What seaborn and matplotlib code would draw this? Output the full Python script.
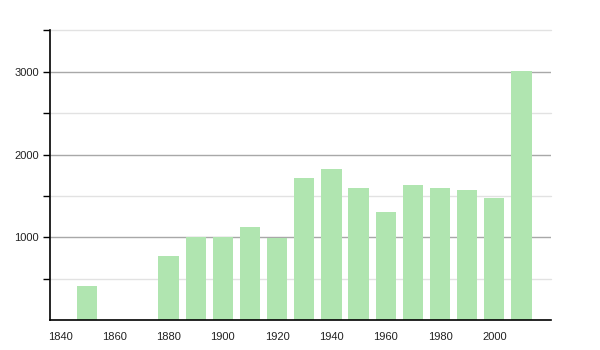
import matplotlib
matplotlib.use("Agg")
import matplotlib.pyplot as plt
import seaborn as sns
import pandas as pd
from matplotlib.ticker import FixedLocator

years = [1850, 1880, 1890, 1900, 1910, 1920, 1930, 1940, 1950, 1960, 1970, 1980, 1990, 2000, 2010]
population = [410, 770, 1000, 1000, 1130, 990, 1720, 1820, 1590, 1310, 1630, 1590, 1570, 1480, 3010]
x_ticks = [1840, 1860, 1880, 1900, 1920, 1940, 1960, 1980, 2000]
y_major = [1000, 2000, 3000]
y_minor = [500, 1500, 2500, 3500]

df = pd.DataFrame({"year": years, "population": population})

sns.set_theme(style="white")
plt.rcParams['font.family'] = ['Liberation Sans', 'DejaVu Sans']

fig = plt.figure(figsize=(6, 3.5), dpi=100)
ax = fig.add_axes([50 / 600, 30 / 350, 500.7 / 600, 289.5 / 350])

sns.barplot(data=df, x="year", y="population", native_scale=True, width=0.75,
            color="#b0e5b0", saturation=1, edgecolor="none", ax=ax, zorder=3)

ax.set_xlim(1836.3, 2020.8)
ax.set_ylim(0, 3500)

ax.yaxis.set_major_locator(FixedLocator(y_major))
ax.yaxis.set_minor_locator(FixedLocator(y_minor))
ax.xaxis.set_major_locator(FixedLocator(x_ticks))
ax.set_xticklabels([str(t) for t in x_ticks])
ax.set_yticklabels([str(t) for t in y_major])

ax.grid(False)
for v in y_major:
    ax.axhline(v, color="#a8a8a8", lw=1.0, zorder=1)
for v in y_minor:
    ax.axhline(v, color="#e2e2e2", lw=1.0, zorder=1, clip_on=False)

for s in ["top", "right"]:
    ax.spines[s].set_visible(False)
for s in ["left", "bottom"]:
    ax.spines[s].set_color("black")
    ax.spines[s].set_linewidth(1.2)
    ax.spines[s].set_zorder(5)

ax.tick_params(axis="y", which="both", left=True, length=5, width=1, color="black",
               direction="out", labelsize=8, pad=3, labelcolor="#222222")
ax.tick_params(axis="x", which="both", bottom=False, labelsize=8, pad=3, labelcolor="#222222")

ax.set_xlabel("")
ax.set_ylabel("")

fig.savefig("out.png", dpi=100)
